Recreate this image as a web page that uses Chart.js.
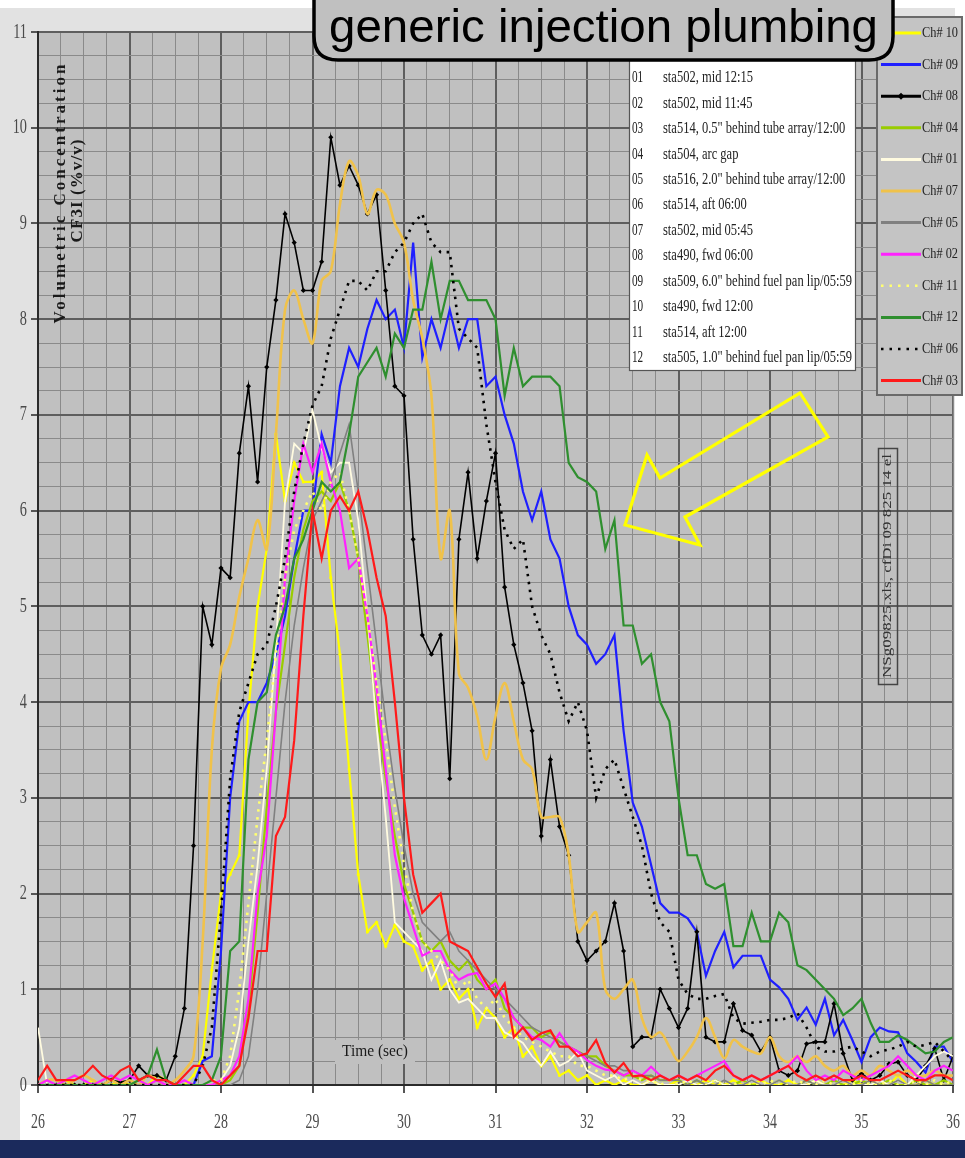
<!DOCTYPE html>
<html><head><meta charset="utf-8">
<script src="https://cdn.jsdelivr.net/npm/chart.js@4.4.1/dist/chart.umd.min.js"></script>
<style>html,body{margin:0;padding:0;background:#fff;overflow:hidden}canvas{display:block}</style>
</head><body>
<canvas id="c" width="965" height="1158"></canvas>
<script>
// ---------------- DATA ----------------
const chartTitle = 'generic injection plumbing';
const yTitle1 = 'Volumetric Concentration';
const yTitle2 = 'CF3I (%v/v)';
const xTitle = 'Time (sec)';
const fileNote = 'NSg09825.xls, cfDi 09 825 14 el';
const xTickLabels = ['26','27','28','29','30','31','32','33','34','35','36'];
const yTickLabels = ['0','1','2','3','4','5','6','7','8','9','10','11'];

const times = [
 26.0,26.1,26.2,26.3,26.4,26.5,26.6,26.7,26.8,26.9,
 27.0,27.1,27.2,27.3,27.4,27.5,27.6,27.7,27.8,27.9,
 28.0,28.1,28.2,28.3,28.4,28.5,28.6,28.7,28.8,28.9,
 29.0,29.1,29.2,29.3,29.4,29.5,29.6,29.7,29.8,29.9,
 30.0,30.1,30.2,30.3,30.4,30.5,30.6,30.7,30.8,30.9,
 31.0,31.1,31.2,31.3,31.4,31.5,31.6,31.7,31.8,31.9,
 32.0,32.1,32.2,32.3,32.4,32.5,32.6,32.7,32.8,32.9,
 33.0,33.1,33.2,33.3,33.4,33.5,33.6,33.7,33.8,33.9,
 34.0,34.1,34.2,34.3,34.4,34.5,34.6,34.7,34.8,34.9,
 35.0,35.1,35.2,35.3,35.4,35.5,35.6,35.7,35.8,35.9,
 36.0];

const ch10 = [
 0,0,0,0.05,0,0,0.05,0,0,0.05,
 0,0.05,0,0.1,0.05,0,0,0.1,0.3,1.2,
 2.0,2.2,2.4,3.9,5.0,5.6,6.8,6.1,6.5,6.3,
 6.3,6.4,5.3,4.5,3.3,2.2,1.6,1.7,1.45,1.67,
 1.5,1.45,1.2,1.3,1.0,1.1,0.9,1.0,0.6,0.8,
 0.7,0.5,0.6,0.3,0.4,0.2,0.3,0.1,0.15,0.05,
 0.1,0,0.05,0,0.05,0,0,0.05,0,0,
 0.05,0,0,0.05,0,0,0.05,0,0,0.05,
 0,0,0.05,0,0,0.05,0,0,0,0.05,
 0,0.05,0,0,0.1,0,0,0.05,0,0,
 0];
const ch09 = [
 0,0,0,0,0,0,0,0,0,0,
 0,0,0,0,0,0,0,0,0.25,0.3,
 1.4,3.0,3.8,4.0,4.0,4.2,4.5,4.9,5.5,6.0,
 6.0,6.8,6.5,7.3,7.7,7.5,7.9,8.2,8.0,8.1,
 7.7,8.8,7.6,8.0,7.7,8.1,7.7,8.0,8.0,7.3,
 7.4,7.0,6.7,6.2,5.9,6.2,5.7,5.5,5.0,4.7,
 4.6,4.4,4.5,4.7,3.7,2.95,2.7,2.3,1.9,1.8,
 1.8,1.74,1.6,1.14,1.4,1.6,1.23,1.35,1.35,1.35,
 1.1,1.02,0.9,0.68,0.81,0.63,0.9,0.52,0.68,0.47,
 0.24,0.5,0.6,0.56,0.55,0.33,0.24,0.13,0.4,0.4,
 0.24];
const ch08 = [
 0,0,0,0,0,0,0,0,0.05,0.03,
 0.05,0.2,0.1,0.1,0.05,0.3,0.8,2.5,5.0,4.6,
 5.4,5.3,6.6,7.3,6.3,7.5,8.2,9.1,8.8,8.3,
 8.3,8.6,9.9,9.4,9.6,9.4,9.1,9.3,8.3,7.3,
 7.2,5.7,4.7,4.5,4.7,3.2,5.7,6.4,5.5,6.1,
 6.6,5.2,4.6,4.2,3.7,2.6,3.4,2.7,2.4,1.5,
 1.3,1.4,1.5,1.9,1.4,0.4,0.5,0.5,1.0,0.8,
 0.6,0.8,1.6,0.5,0.45,0.45,0.85,0.57,0.52,0.35,
 0.5,0.15,0.1,0.15,0.43,0.45,0.45,0.85,0.33,0.05,
 0.12,0.05,0.1,0.22,0.24,0.1,0.05,0.2,0.38,0.05,
 0.3];
const ch04 = [
 0,0,0,0,0,0,0,0,0,0,
 0,0,0,0,0,0,0,0,0,0,
 0,0.05,0.2,0.8,1.8,2.9,3.9,4.6,5.3,5.8,
 6.1,6.2,6.1,6.3,6.0,5.5,4.7,3.9,3.2,2.6,
 2.1,1.8,1.5,1.4,1.5,1.3,1.2,1.3,1.1,1.0,
 1.1,0.8,0.7,0.6,0.6,0.5,0.55,0.45,0.4,0.35,
 0.3,0.3,0.2,0.15,0.1,0.1,0.05,0.1,0.05,0.05,
 0.05,0,0.05,0,0.05,0,0,0.05,0,0,
 0,0.05,0,0,0.05,0,0,0.05,0,0,
 0.05,0,0,0.05,0,0,0.05,0,0,0.05,
 0];
const ch01 = [
 0.6,0,0,0,0,0,0,0,0,0,
 0,0,0,0,0,0,0,0,0,0,
 0.05,0.2,0.6,1.5,2.3,3.3,4.6,6.1,6.7,6.6,
 7.05,6.65,6.4,6.5,6.5,5.9,4.9,3.75,2.8,1.7,
 1.6,1.5,1.4,1.1,1.3,1.0,0.86,0.9,0.8,0.7,
 0.7,0.55,0.5,0.44,0.3,0.2,0.35,0.2,0.25,0.35,
 0.15,0.1,0.05,0.1,0,0.05,0,0.05,0,0,
 0,0.05,0,0,0.05,0,0,0,0.05,0,
 0,0.05,0,0,0,0.05,0,0,0.05,0,
 0,0,0.05,0,0.05,0,0.1,0.2,0.3,0.35,
 0.3];
const ch07 = [
 0,0.05,0.05,0,0.05,0.1,0.05,0,0.05,0,
 0.05,0,0.1,0.05,0,0.05,0.15,0.3,1.5,3.5,
 4.35,4.6,5.1,5.5,5.9,5.6,6.8,8.1,8.3,8.0,
 7.75,8.4,8.5,9.2,9.65,9.5,9.1,9.35,9.3,9.0,
 8.8,8.2,7.8,7.2,5.5,6.0,4.3,4.15,3.85,3.4,
 3.85,4.2,3.8,3.4,3.3,2.8,2.8,2.8,2.4,1.6,
 1.7,1.8,1.0,0.9,1.0,1.1,0.7,0.5,0.55,0.4,
 0.25,0.35,0.5,0.7,0.5,0.28,0.47,0.4,0.35,0.33,
 0.5,0.3,0.24,0.3,0.24,0.3,0.2,0.15,0.2,0.1,
 0.15,0.1,0.2,0.15,0.1,0.15,0.1,0.1,0.15,0.1,
 0.1];
const ch05 = [
 0,0,0,0,0,0,0,0,0,0,
 0,0,0,0,0,0,0,0,0,0,
 0,0,0.05,0.3,1.0,2.0,3.0,4.0,4.8,5.4,
 5.9,6.1,6.3,6.6,6.9,6.2,5.4,4.6,3.8,3.1,
 2.5,2.0,1.7,1.6,1.5,1.6,1.4,1.3,1.2,1.1,
 1.0,0.9,0.8,0.7,0.6,0.55,0.5,0.45,0.4,0.35,
 0.3,0.25,0.2,0.2,0.15,0.15,0.1,0.1,0.05,0.05,
 0.05,0,0.05,0,0,0.05,0,0,0.05,0,
 0,0.05,0,0,0.05,0,0,0,0.05,0,
 0,0.05,0,0,0.05,0,0,0.05,0,0,
 0];
const ch02 = [
 0,0.05,0,0.05,0.1,0.05,0,0.05,0.1,0.05,
 0.1,0.05,0,0.05,0,0,0.05,0,0,0,
 0.05,0.1,0.3,0.9,2.0,2.6,3.9,5.3,6.1,6.7,
 6.4,6.7,6.3,6.0,5.4,5.5,4.9,4.15,3.3,2.4,
 1.95,1.65,1.35,1.4,1.4,1.2,1.1,1.15,1.17,1.0,
 1.06,0.9,0.7,0.6,0.5,0.47,0.4,0.54,0.4,0.35,
 0.26,0.2,0.16,0.15,0.1,0.15,0.1,0.19,0.1,0.05,
 0.1,0.05,0.1,0.15,0.2,0.25,0.1,0.05,0.1,0.05,
 0.1,0.15,0.2,0.3,0.15,0.05,0.1,0.05,0.15,0.1,
 0.05,0.1,0.15,0.2,0.3,0.2,0.1,0.05,0.15,0.2,
 0.15];
const ch11 = [
 0,0,0,0,0,0,0,0,0,0,
 0,0,0,0,0,0,0,0,0,0.05,
 0.05,0.3,1.0,1.9,2.8,3.6,4.5,5.3,5.8,6.0,
 6.2,6.0,6.3,6.4,6.0,5.5,4.9,4.2,3.6,2.9,
 2.3,1.8,1.5,1.4,1.3,1.2,1.0,1.1,0.9,0.8,
 0.9,0.7,0.6,0.5,0.45,0.4,0.35,0.3,0.3,0.2,
 0.2,0.15,0.1,0.1,0.05,0.1,0.05,0.05,0,0.05,
 0,0.05,0,0,0.05,0,0,0.05,0,0,
 0.05,0,0,0.05,0,0,0.05,0,0,0,
 0.05,0,0,0.05,0,0,0.05,0,0.05,0,
 0.05];
const ch12 = [
 0,0,0,0,0,0,0,0,0,0,
 0,0.05,0.1,0.37,0.05,0,0,0,0,0.05,
 0.3,1.4,1.5,3.4,4.0,4.1,4.7,5.0,5.5,5.7,
 6.0,6.3,6.2,6.3,6.8,7.4,7.55,7.7,7.4,7.85,
 7.7,8.1,8.1,8.6,8.0,8.4,8.4,8.2,8.2,8.2,
 8.0,7.2,7.7,7.3,7.4,7.4,7.4,7.3,6.5,6.35,
 6.3,6.2,5.6,5.9,4.8,4.8,4.4,4.5,4.0,3.8,
 3.0,2.4,2.4,2.1,2.05,2.1,1.45,1.45,1.8,1.5,
 1.5,1.8,1.7,1.25,1.2,1.1,1.0,0.9,0.73,0.8,
 0.9,0.65,0.45,0.45,0.52,0.47,0.4,0.33,0.35,0.45,
 0.5];
const ch06 = [
 0,0,0,0,0,0,0,0,0,0,
 0,0,0,0,0,0,0,0,0.2,0.6,
 1.8,3.2,3.9,4.2,4.5,4.6,5.0,5.5,6.2,6.7,
 7.1,7.3,7.8,8.1,8.4,8.4,8.3,8.5,8.5,8.7,
 8.8,9.0,9.1,8.8,8.7,8.7,7.9,7.8,7.7,6.9,
 6.3,5.8,5.6,5.7,5.0,4.7,4.5,4.1,3.8,4.0,
 3.7,3.0,3.3,3.4,3.1,2.8,2.5,2.0,1.7,1.6,
 1.1,0.95,0.9,0.9,0.93,0.95,0.7,0.64,0.65,0.66,
 0.68,0.68,0.7,0.75,0.6,0.4,0.35,0.35,0.38,0.4,
 0.35,0.3,0.35,0.37,0.4,0.45,0.4,0.42,0.45,0.35,
 0.25];
const ch03 = [
 0.05,0.2,0.05,0.05,0.05,0.1,0.2,0.1,0.05,0.15,
 0.2,0.05,0.1,0.05,0.05,0,0.1,0.2,0.2,0.05,
 0,0.1,0.2,0.7,1.4,1.4,2.6,2.8,3.6,4.9,
 6.0,5.5,6.0,6.15,6.0,6.2,5.8,5.3,4.9,4.0,
 3.0,2.2,1.8,1.9,2.0,1.5,1.45,1.4,1.23,1.06,
 0.92,1.06,0.5,0.6,0.47,0.54,0.57,0.4,0.4,0.3,
 0.33,0.47,0.23,0.13,0.23,0.09,0.1,0.05,0.1,0.05,
 0.1,0.05,0.1,0.05,0.15,0.2,0.1,0.05,0.1,0.05,
 0.1,0.15,0.2,0.1,0.05,0.1,0.05,0.1,0.05,0.05,
 0.1,0.05,0.05,0.1,0.15,0.1,0.05,0.05,0.1,0.1,
 0.05];

const seriesNames = ['Ch# 10','Ch# 09','Ch# 08','Ch# 04','Ch# 01','Ch# 07','Ch# 05','Ch# 02','Ch# 11','Ch# 12','Ch# 06','Ch# 03'];
const seriesValues = [ch10,ch09,ch08,ch04,ch01,ch07,ch05,ch02,ch11,ch12,ch06,ch03];

const noteCodes = ['01','02','03','04','05','06','07','08','09','10','11','12'];
const noteTexts = [
 'sta502, mid 12:15',
 'sta502, mid 11:45',
 'sta514, 0.5" behind tube array/12:00',
 'sta504, arc gap',
 'sta516, 2.0" behind tube array/12:00',
 'sta514, aft 06:00',
 'sta502, mid 05:45',
 'sta490, fwd 06:00',
 'sta509, 6.0" behind fuel pan lip/05:59',
 'sta490, fwd 12:00',
 'sta514, aft 12:00',
 'sta505, 1.0" behind fuel pan lip/05:59'
];

// ---------------- STYLES ----------------
const styles = [
 {c:'#ffff00', w:2.2, pr:1.6},
 {c:'#1f1fff', w:2.2},
 {c:'#000000', w:1.6, pr:2.6, ps:'rectRot'},
 {c:'#99cc00', w:2.2},
 {c:'#fffbe0', w:1.8},
 {c:'#f0c24a', w:2.6, t:0.35},
 {c:'#808080', w:1.6},
 {c:'#ff22ff', w:2.2},
 {c:'#ffff70', w:2.6, dash:[2.5,5.5]},
 {c:'#2f8f2f', w:2.2},
 {c:'#000000', w:2.6, dash:[2.5,5.5]},
 {c:'#ff1a1a', w:2.2}
];
const SERIF = '"Liberation Serif", "DejaVu Serif", serif';
const SANS = '"Liberation Sans", Arial, sans-serif';
const W = 965, H = 1158;

const datasets = seriesNames.map((name, k) => {
  const st = styles[k];
  return {
    label: name,
    data: times.map((t, i) => ({x: t, y: seriesValues[k][i]})),
    borderColor: st.c,
    backgroundColor: st.c,
    borderWidth: st.w,
    borderDash: st.dash || [],
    borderCapStyle: 'butt',
    pointRadius: st.pr || 0,
    pointStyle: st.ps || 'circle',
    pointBorderWidth: 0,
    pointBackgroundColor: st.c,
    tension: st.t || 0,
    fill: false,
    order: seriesNames.length - 1 - k
  };
});

function isInt(v){ return Math.abs(v - Math.round(v)) < 1e-6; }

function rr(c, x, y, w, h, r){
  c.beginPath();
  c.moveTo(x+r, y); c.lineTo(x+w-r, y); c.quadraticCurveTo(x+w, y, x+w, y+r);
  c.lineTo(x+w, y+h-r); c.quadraticCurveTo(x+w, y+h, x+w-r, y+h);
  c.lineTo(x+r, y+h); c.quadraticCurveTo(x, y+h, x, y+h-r);
  c.lineTo(x, y+r); c.quadraticCurveTo(x, y, x+r, y); c.closePath();
}
function fitText(c, text, x, y, width, font, color, align){
  c.save(); c.font = font; c.fillStyle = color; c.textAlign = align || 'left'; c.textBaseline = 'middle';
  const m = c.measureText(text).width; const s = width / m;
  c.translate(x, y); c.scale(s, 1); c.fillText(text, 0, 0); c.restore();
}
function scaledText(c, text, x, y, sx, font, color, align){
  c.save(); c.font = font; c.fillStyle = color; c.textAlign = align || 'left'; c.textBaseline = 'middle';
  c.translate(x, y); c.scale(sx, 1); c.fillText(text, 0, 0); c.restore();
}
function spacedText(c, text, target){
  const w0 = c.measureText(text).width;
  if ('letterSpacing' in c) {
    const ls = (target - w0) / text.length;
    c.letterSpacing = ls.toFixed(2) + 'px';
    c.textAlign = 'left';
    const w1 = c.measureText(text).width;
    c.fillText(text, -w1/2 + ls/2, 0);
    c.letterSpacing = '0px';
  } else {
    c.save(); c.scale(target / w0, 1); c.textAlign = 'center'; c.fillText(text, 0, 0); c.restore();
  }
}

const decor = {
  id: 'decor',
  beforeDraw(chart){
    const c = chart.ctx, a = chart.chartArea;
    c.save();
    c.fillStyle = '#ffffff'; c.fillRect(0, 0, W, H);
    c.fillStyle = '#e2e2e2';
    c.fillRect(0, 8, a.right + 2, a.top - 8);
    c.fillRect(0, 8, a.left, a.bottom - 8);
    c.fillRect(0, a.bottom, 20, 1140 - a.bottom);
    c.fillStyle = '#c0c0c0';
    c.fillRect(a.left, a.top, a.right - a.left, a.bottom - a.top);
    c.restore();
  },
  afterDraw(chart){
    const c = chart.ctx, a = chart.chartArea;
    const xs = chart.scales.x, ys = chart.scales.y;
    c.save();
    c.strokeStyle = '#8a8a8a'; c.lineWidth = 1.5;
    c.beginPath(); c.moveTo(a.right + 0.5, a.top); c.lineTo(a.right + 0.5, a.bottom); c.stroke();

    // Y axis title (rotated)
    c.fillStyle = '#1a1a1a';
    c.font = 'bold 17px ' + SERIF; c.textBaseline = 'middle';
    c.save(); c.translate(61, 194); c.rotate(-Math.PI/2); spacedText(c, yTitle1, 262); c.restore();
    c.save(); c.translate(78, 191); c.rotate(-Math.PI/2); spacedText(c, yTitle2, 104); c.restore();

    // X title with box
    c.fillStyle = '#c0c0c0'; c.fillRect(335, 1040, 80, 24);
    fitText(c, xTitle, 342, 1052, 66, '16px ' + SERIF, '#1a1a1a', 'left');

    // inner legend (white)
    c.fillStyle = '#ffffff'; c.fillRect(629, 60, 227, 311);
    c.strokeStyle = '#555'; c.lineWidth = 1.2; c.strokeRect(629.5, 60.5, 226, 310);
    c.font = '16px ' + SERIF;
    const sx = 189 / c.measureText(noteTexts[8]).width;
    noteCodes.forEach((code, k) => {
      const y = 78 + k * 25.45;
      scaledText(c, code, 632, y, 0.7, '16px ' + SERIF, '#222', 'left');
      scaledText(c, noteTexts[k], 663, y, sx, '16px ' + SERIF, '#222', 'left');
    });

    // right legend
    c.fillStyle = '#c4c4c4'; c.fillRect(877, 17, 85, 378);
    c.strokeStyle = '#6a6a6a'; c.lineWidth = 2; c.strokeRect(877, 17, 85, 378);
    seriesNames.forEach((name, k) => {
      const st = styles[k]; const y = 33 + k * 31.6;
      c.save();
      c.strokeStyle = st.c; c.lineWidth = st.dash ? 2.6 : 3; c.setLineDash(st.dash ? [2.5, 6] : []);
      c.beginPath(); c.moveTo(881, y); c.lineTo(921, y); c.stroke();
      c.setLineDash([]);
      if (st.ps === 'rectRot') {
        c.fillStyle = '#000'; c.beginPath();
        c.moveTo(901, y - 3.5); c.lineTo(904.5, y); c.lineTo(901, y + 3.5); c.lineTo(897.5, y); c.closePath(); c.fill();
      }
      c.restore();
      fitText(c, name, 922, y, 36, '15px ' + SERIF, '#222', 'left');
    });

    // rotated file note
    c.strokeStyle = '#444'; c.lineWidth = 1.5; c.strokeRect(878.5, 448.5, 19, 236);
    c.save(); c.translate(888, 566); c.rotate(-Math.PI/2);
    fitText(c, fileNote, 0, 0, 224, '12px ' + SERIF, '#333', 'center');
    c.restore();

    // yellow arrow
    const arrow = [[625,525],[647,455],[660,478],[800,393],[828,437],[685,517],[700,545]];
    c.strokeStyle = '#ffff00'; c.lineWidth = 3.2; c.lineJoin = 'miter';
    c.beginPath(); arrow.forEach((p, i) => i ? c.lineTo(p[0], p[1]) : c.moveTo(p[0], p[1])); c.closePath(); c.stroke();

    // title box
    rr(c, 314, -25, 579, 85, 24);
    c.fillStyle = '#c0c0c0'; c.fill();
    c.strokeStyle = '#000'; c.lineWidth = 3.5; c.stroke();
    c.save(); c.font = '47px ' + SANS; c.textBaseline = 'alphabetic'; c.fillStyle = '#000';
    const tw = c.measureText(chartTitle).width; c.translate(329, 42); c.scale(549 / tw, 1); c.fillText(chartTitle, 0, 0); c.restore();

    // tick labels
    xTickLabels.forEach(l => {
      scaledText(c, l, xs.getPixelForValue(Number(l)), 1122, 0.66, '21px ' + SERIF, '#4a4a4a', 'center');
    });
    yTickLabels.forEach(l => {
      scaledText(c, l, 27, ys.getPixelForValue(Number(l)), 0.68, '21px ' + SERIF, '#4a4a4a', 'right');
    });

    // bottom band
    c.fillStyle = '#1b2a5c'; c.fillRect(0, 1140, W, H - 1140);
    c.restore();
  }
};

new Chart(document.getElementById('c'), {
  type: 'line',
  data: { datasets },
  plugins: [decor],
  options: {
    responsive: false, animation: false, devicePixelRatio: 1,
    layout: { padding: { top: 32, right: 12, left: 0, bottom: 0 } },
    plugins: { legend: { display: false }, tooltip: { enabled: false }, title: { display: false } },
    scales: {
      x: {
        type: 'linear', min: 26, max: 36,
        afterFit: s => { s.height = 73; },
        ticks: { stepSize: 0.25, autoSkip: false, maxRotation: 0, minRotation: 0, padding: 4,
                 callback: () => '', font: { size: 1 } },
        grid: {
          color: ctx => isInt(ctx.tick.value) ? '#5e5e5e' : '#8a8a8a',
          lineWidth: ctx => isInt(ctx.tick.value) ? 2 : 1,
          tickLength: 8,
          tickColor: ctx => isInt(ctx.tick.value) ? '#555' : 'rgba(0,0,0,0)'
        },
        border: { display: true, color: '#2a2a2a', width: 2 }
      },
      y: {
        min: 0, max: 11,
        afterFit: s => { s.width = 38; },
        ticks: { stepSize: 0.25, autoSkip: false, padding: 2, callback: () => '', font: { size: 1 } },
        grid: {
          color: ctx => isInt(ctx.tick.value) ? '#5e5e5e' : '#8a8a8a',
          lineWidth: ctx => isInt(ctx.tick.value) ? 2 : 1,
          tickLength: 7,
          tickColor: ctx => isInt(ctx.tick.value) ? '#555' : 'rgba(0,0,0,0)'
        },
        border: { display: true, color: '#2a2a2a', width: 2 }
      }
    }
  }
});
</script>
</body></html>
